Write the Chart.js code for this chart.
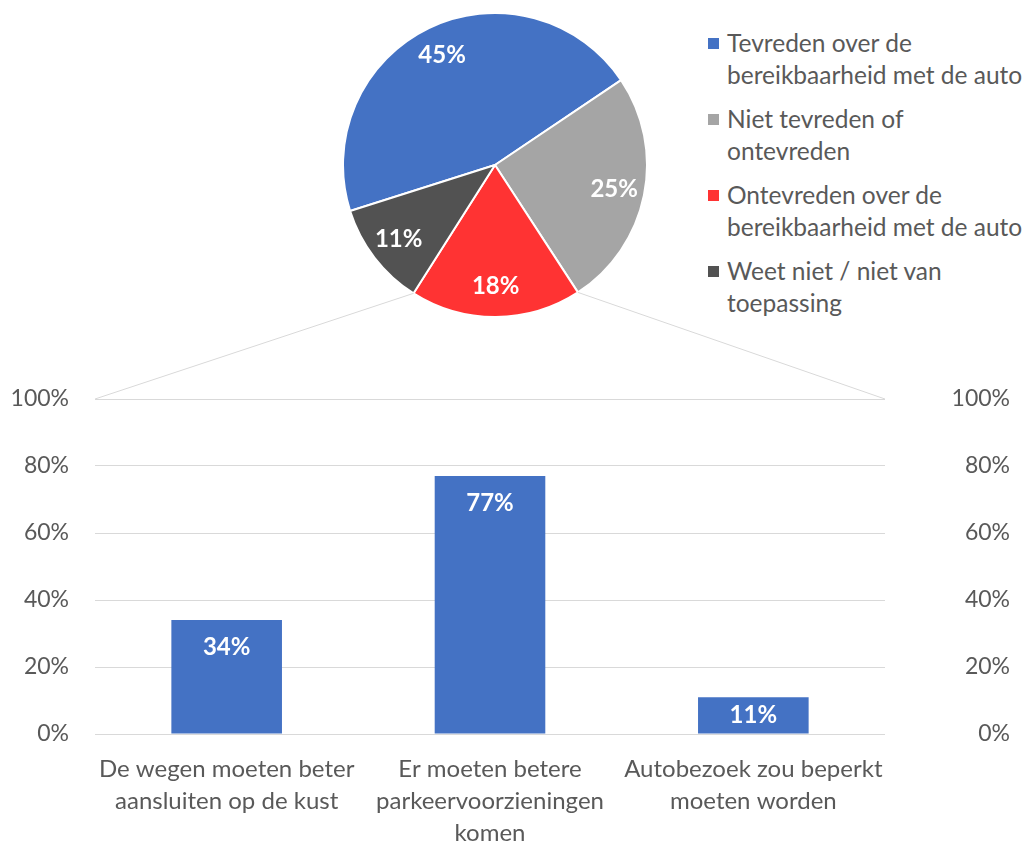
<!DOCTYPE html>
<html><head><meta charset="utf-8">
<script src="https://cdn.jsdelivr.net/npm/chart.js@4.4.0/dist/chart.umd.min.js"></script>
<style>
html,body{margin:0;padding:0;background:#fff;}
#wrap{position:relative;width:1029px;height:843px;overflow:hidden;font-family:Lato,"Open Sans",sans-serif;}
#pieBox{position:absolute;left:342px;top:12px;width:306px;height:306px;}
#barBox{position:absolute;left:0;top:380px;width:1029px;height:463px;}
#overlay{position:absolute;left:0;top:0;pointer-events:none;}
#legend{position:absolute;left:708px;top:27px;color:#595959;font-size:24.5px;line-height:32px;white-space:nowrap;}
.item{display:flex;align-items:flex-start;margin-bottom:12px;}
.sw{width:11px;height:11px;margin-top:11px;margin-right:8px;flex:none;}
</style></head>
<body>
<div id="wrap">
  <div id="pieBox"><canvas id="pie"></canvas></div>
  <div id="legend"></div>
  <div id="barBox"><canvas id="bar"></canvas></div>
  <canvas id="overlay" width="1029" height="843"></canvas>
</div>
<script>
// ---- data ----
const pieLabels = [
  ['Tevreden over de', 'bereikbaarheid met de auto'],
  ['Niet tevreden of', 'ontevreden'],
  ['Ontevreden over de', 'bereikbaarheid met de auto'],
  ['Weet niet / niet van', 'toepassing']
];
const pieValues = [45, 25, 18, 11];
const pieColors = ['#4472C4', '#A5A5A5', '#FF3333', '#525252'];
const explodedIndex = 2;

const barLabels = [
  ['De wegen moeten beter', 'aansluiten op de kust'],
  ['Er moeten betere', 'parkeervoorzieningen', 'komen'],
  ['Autobezoek zou beperkt', 'moeten worden']
];
const barValues = [34, 77, 11];
const barColor = '#4472C4';
const yTickValues = [0, 20, 40, 60, 80, 100];

const FONT = 'Lato, "Open Sans", sans-serif';
const TEXT = '#595959';
const GRID = '#D9D9D9';

// ---- legend (HTML) ----
const legend = document.getElementById('legend');
pieLabels.forEach((lines, i) => {
  const it = document.createElement('div'); it.className = 'item';
  const sw = document.createElement('div'); sw.className = 'sw'; sw.style.background = pieColors[i];
  const tx = document.createElement('div'); tx.innerHTML = lines.join('<br>');
  it.appendChild(sw); it.appendChild(tx); legend.appendChild(it);
});

// ---- pie ----
const pieLabelPlugin = {
  id: 'pieLabels',
  afterDatasetsDraw(chart) {
    const ctx = chart.ctx;
    ctx.save();
    ctx.font = 'bold 24px ' + FONT;
    ctx.fillStyle = '#fff'; ctx.textAlign = 'center'; ctx.textBaseline = 'middle';
    chart.getDatasetMeta(0).data.forEach((arc, i) => {
      const p = arc.getProps(['x', 'y', 'startAngle', 'endAngle', 'outerRadius'], true);
      const mid = (p.startAngle + p.endAngle) / 2;
      const r = p.outerRadius * 0.8;
      ctx.fillText(pieValues[i] + '%', p.x + Math.cos(mid) * r, p.y + Math.sin(mid) * r);
    });
    ctx.restore();
  }
};

const pie = new Chart(document.getElementById('pie'), {
  type: 'pie',
  data: {
    labels: pieLabels.map(l => l.join(' ')),
    datasets: [{ data: pieValues, backgroundColor: pieColors, borderColor: '#fff', borderWidth: 2 }]
  },
  options: {
    responsive: true, maintainAspectRatio: false, animation: false,
    rotation: 252.4,
    layout: { padding: 0 },
    plugins: { legend: { display: false }, tooltip: { enabled: false } }
  },
  plugins: [pieLabelPlugin]
});

// ---- bar ----
const barLabelPlugin = {
  id: 'barLabels',
  afterDatasetsDraw(chart) {
    const ctx = chart.ctx;
    ctx.save();
    ctx.font = 'bold 24px ' + FONT;
    ctx.fillStyle = '#fff'; ctx.textAlign = 'center'; ctx.textBaseline = 'middle';
    chart.getDatasetMeta(0).data.forEach((b, i) => {
      const h = b.base - b.y;
      ctx.fillText(barValues[i] + '%', b.x, b.y + Math.min(27, h / 2));
    });
    ctx.restore();
  }
};

const tickFont = { family: FONT, size: 23 };
const fixY = (w) => (s) => { s.width = w; s.paddingTop = 0; s.paddingBottom = 0; };
const bar = new Chart(document.getElementById('bar'), {
  type: 'bar',
  data: {
    labels: barLabels,
    datasets: [{ data: barValues, backgroundColor: barColor, barPercentage: 0.42, categoryPercentage: 1, yAxisID: 'y' }]
  },
  options: {
    responsive: true, maintainAspectRatio: false, animation: false,
    layout: { padding: { top: 19, right: 19, left: 0, bottom: 0 } },
    plugins: { legend: { display: false }, tooltip: { enabled: false } },
    scales: {
      x: {
        grid: { display: false },
        border: { display: false },
        ticks: { color: TEXT, font: { family: FONT, size: 24, lineHeight: '32px' }, padding: 11, maxRotation: 0, autoSkip: false },
        afterFit(s) { s.height = 109; s.paddingLeft = 0; s.paddingRight = 0; }
      },
      y: {
        position: 'left', min: 0, max: 100,
        afterBuildTicks(s) { s.ticks = yTickValues.map(v => ({ value: v })); },
        grid: { color: GRID, lineWidth: 1, drawTicks: false },
        border: { display: false },
        ticks: { color: TEXT, font: tickFont, padding: 26, callback: v => v + '%' },
        afterFit: fixY(95)
      },
      y2: {
        position: 'right', min: 0, max: 100,
        afterBuildTicks(s) { s.ticks = yTickValues.map(v => ({ value: v })); },
        grid: { display: false, drawTicks: false },
        border: { display: false },
        ticks: { color: TEXT, font: tickFont, padding: 20, crossAlign: 'far', callback: v => v + '%' },
        afterFit: fixY(125)
      }
    }
  },
  plugins: [barLabelPlugin]
});

// ---- connector lines from exploded slice to bar plot ----
(function drawConnectors() {
  const ov = document.getElementById('overlay');
  const ctx = ov.getContext('2d');
  const pieBox = document.getElementById('pieBox');
  const barBox = document.getElementById('barBox');
  const arc = pie.getDatasetMeta(0).data[explodedIndex];
  const p = arc.getProps(['x', 'y', 'startAngle', 'endAngle', 'outerRadius'], true);
  const px = pieBox.offsetLeft, py = pieBox.offsetTop;
  const bx = barBox.offsetLeft, by = barBox.offsetTop;
  const ca = bar.chartArea;
  const topY = bar.scales.y.getPixelForValue(100) + by;
  const leftPt = [px + p.x + Math.cos(p.endAngle) * p.outerRadius, py + p.y + Math.sin(p.endAngle) * p.outerRadius];
  const rightPt = [px + p.x + Math.cos(p.startAngle) * p.outerRadius, py + p.y + Math.sin(p.startAngle) * p.outerRadius];
  ctx.strokeStyle = GRID; ctx.lineWidth = 1;
  ctx.beginPath();
  ctx.moveTo(leftPt[0], leftPt[1]); ctx.lineTo(bx + ca.left, topY);
  ctx.moveTo(rightPt[0], rightPt[1]); ctx.lineTo(bx + ca.right, topY);
  ctx.stroke();
})();
</script>
</body></html>
